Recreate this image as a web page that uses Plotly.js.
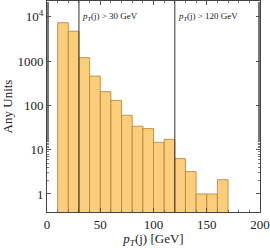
<!DOCTYPE html>
<html><head><meta charset="utf-8">
<script src="https://cdn.plot.ly/plotly-3.0.1.min.js"></script>
<style>html,body{margin:0;padding:0;background:#fff}#chart{width:270px;height:248px}</style>
</head><body><div id="chart"></div>
<script>
const binEdgesLow = [10,20,30,40,50,60,70,80,90,100,110,120,130,140,150,160];
const binWidth = 10;
const counts = [7400,4750,1200,460,205,130,60,34,30,14.7,17.2,6.3,3.2,1,1,2.1];
const cuts = [30,120];
const cutLabels = ['<i>p</i><sub><i>T</i></sub>(j) > 30 GeV','<i>p</i><sub><i>T</i></sub>(j) > 120 GeV'];
const yTickVals = [1,10,100,1000,10000];
const yTickText = ['1','10','100','1000','10<sup>4</sup>'];
const xTickVals = [0,50,100,150,200];

const centers = binEdgesLow.map(v => v + binWidth/2);
const font = {family:'Liberation Serif, serif', color:'#222'};

const trace = {
  type:'bar', x:centers, y:counts, width:binWidth,
  marker:{color:'rgba(252,196,100,0.85)', line:{color:'rgba(185,140,70,0.9)', width:1}},
  hoverinfo:'skip'
};

const shapes = cuts.map(c => ({type:'line', xref:'x', yref:'paper', x0:c, x1:c, y0:0, y1:1,
  line:{color:'#333', width:1}}));
const annotations = cuts.map((c,i) => ({xref:'x', yref:'y', x:c, y:4, text:cutLabels[i],
  showarrow:false, xanchor:'left', yanchor:'middle', xshift:1,
  font:{family:'Liberation Serif, serif', size:9, color:'#222'}}));

const layout = {
  width:270, height:248,
  margin:{l:47, r:10, t:1, b:36},
  paper_bgcolor:'#fff', plot_bgcolor:'#fff',
  showlegend:false, bargap:0,
  font:{family:'Liberation Serif, serif', size:13, color:'#222'},
  xaxis:{range:[0,200], tickvals:xTickVals, ticks:'inside', ticklen:4, tickcolor:'#555',
    showline:true, linecolor:'#444', linewidth:1, mirror:'ticks', showgrid:false, zeroline:false,
    tickfont:{family:'Liberation Serif, serif', size:13, color:'#222'},
    minor:{dtick:10, ticks:'inside', ticklen:2, tickcolor:'#777', showgrid:false},
    title:{text:'<i>p</i><sub><i>T</i></sub>(j) [GeV]', standoff:4, font:{family:'Liberation Serif, serif', size:13, color:'#222'}}},
  yaxis:{type:'log', range:[-0.407,4.36], tickvals:yTickVals, ticktext:yTickText,
    ticks:'inside', ticklen:4, tickcolor:'#555',
    showline:true, linecolor:'#444', linewidth:1, mirror:'ticks', showgrid:false, zeroline:false,
    tickfont:{family:'Liberation Serif, serif', size:13, color:'#222'},
    minor:{ticks:'inside', ticklen:2, tickcolor:'#777', showgrid:false},
    title:{text:'Any Units', standoff:2, font:{family:'Liberation Serif, serif', size:13, color:'#222'}}},
  shapes:shapes, annotations:annotations
};
Plotly.newPlot('chart',[trace],layout,{displayModeBar:false,staticPlot:true});
</script></body></html>
